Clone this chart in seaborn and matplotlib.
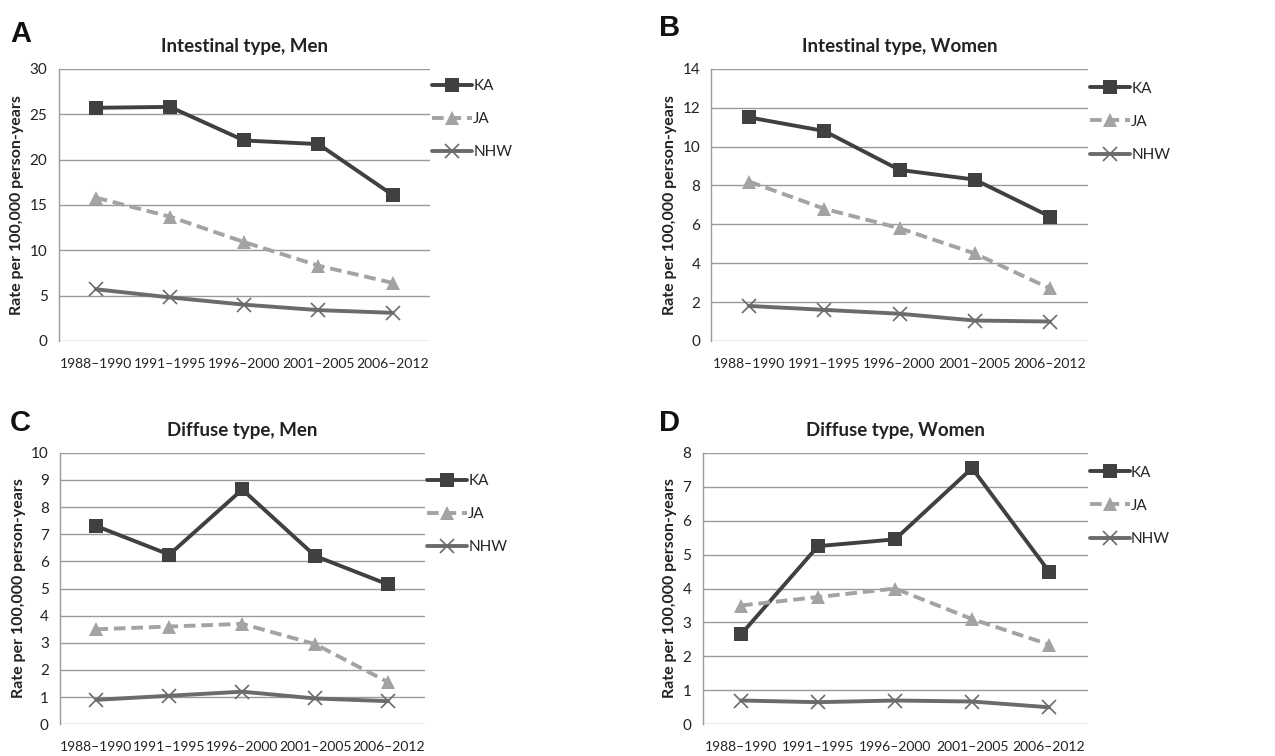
import matplotlib.pyplot as plt
import seaborn as sns

# data
periods = ['1988–1990', '1991–1995', '1996–2000', '2001–2005', '2006–2012']
groups = ['KA', 'JA', 'NHW']

a_ka = [25.7, 25.8, 22.1, 21.7, 16.1]
a_ja = [15.8, 13.7, 10.9, 8.3, 6.4]
a_nhw = [5.7, 4.8, 4.0, 3.4, 3.1]

b_ka = [11.5, 10.8, 8.8, 8.3, 6.4]
b_ja = [8.2, 6.8, 5.8, 4.5, 2.7]
b_nhw = [1.8, 1.6, 1.4, 1.05, 1.0]

c_ka = [7.3, 6.25, 8.65, 6.2, 5.15]
c_ja = [3.5, 3.6, 3.7, 2.95, 1.55]
c_nhw = [0.9, 1.05, 1.2, 0.95, 0.85]

d_ka = [2.65, 5.25, 5.45, 7.55, 4.5]
d_ja = [3.5, 3.75, 4.0, 3.1, 2.35]
d_nhw = [0.7, 0.65, 0.7, 0.67, 0.5]

panels = [
    ('A', 'Intestinal type, Men', [a_ka, a_ja, a_nhw], 30, 5),
    ('B', 'Intestinal type, Women', [b_ka, b_ja, b_nhw], 14, 2),
    ('C', 'Diffuse type, Men', [c_ka, c_ja, c_nhw], 10, 1),
    ('D', 'Diffuse type, Women', [d_ka, d_ja, d_nhw], 8, 1),
]

sns.set_theme(style='white')
plt.rcParams['font.family'] = ['Lato', 'DejaVu Sans']

# per-series style
style = {
    'KA': dict(color='#404040', marker='s', markersize=10, markeredgewidth=0, linestyle='-'),
    'JA': dict(color='#a3a3a3', marker='^', markersize=10, markeredgewidth=0, linestyle=(0, (3, 1.5))),
    'NHW': dict(color='#6b6b6b', marker='x', markersize=10, markeredgewidth=1.2, linestyle='-'),
}

# axes rectangles [left, bottom, width, height]
rects = {
    'A': [0.046, 0.549, 0.291, 0.360],
    'B': [0.558, 0.549, 0.295, 0.360],
    'C': [0.047, 0.042, 0.286, 0.359],
    'D': [0.551, 0.042, 0.302, 0.359],
}
letter_pos = {'A': (0.008, 0.944), 'B': (0.517, 0.952), 'C': (0.008, 0.430), 'D': (0.517, 0.430)}
legend_y = {'A': 0.985, 'B': 0.975, 'C': 0.945, 'D': 0.975}

fig = plt.figure(figsize=(12.75, 7.56), dpi=100)

for letter, title, series, ymax, step in panels:
    ax = fig.add_axes(rects[letter])
    for g, vals in zip(groups, series):
        sns.lineplot(x=periods, y=vals, ax=ax, linewidth=2.8, label=g,
                     markeredgecolor=style[g]['color'], **style[g])

    ax.set_xlim(-0.5, 4.5)
    ax.set_ylim(0, ymax)
    ax.set_yticks(range(0, ymax + 1, step))
    ax.yaxis.grid(True, color='#9a9a9a', linewidth=1)
    ax.set_axisbelow(True)
    for s in ['top', 'right', 'bottom']:
        ax.spines[s].set_visible(False)
    ax.spines['left'].set_color('#9a9a9a')
    ax.spines['left'].set_linewidth(1)
    ax.tick_params(axis='y', length=0, labelsize=11, colors='#222222', pad=8)
    ax.tick_params(axis='x', length=0, labelsize=10, colors='#222222', pad=12)
    ax.set_xlabel('')
    ax.set_ylabel('Rate per 100,000 person-years', fontsize=11.5, fontweight='bold',
                  color='#222222')
    ax.set_title(title, fontsize=13.5, fontweight='bold', color='#222222', pad=12)

    # legend to the right, like the Excel original
    ax.legend(loc='upper left', bbox_to_anchor=(0.99, legend_y[letter]),
              frameon=False, fontsize=11, handlelength=2.6, handletextpad=0.1,
              labelspacing=1.25, borderaxespad=0)

    fig.text(*letter_pos[letter], letter, fontsize=21, fontweight='bold',
             family=['Liberation Sans', 'DejaVu Sans'], color='#111111')

fig.savefig('out.png', dpi=100, facecolor='white')
